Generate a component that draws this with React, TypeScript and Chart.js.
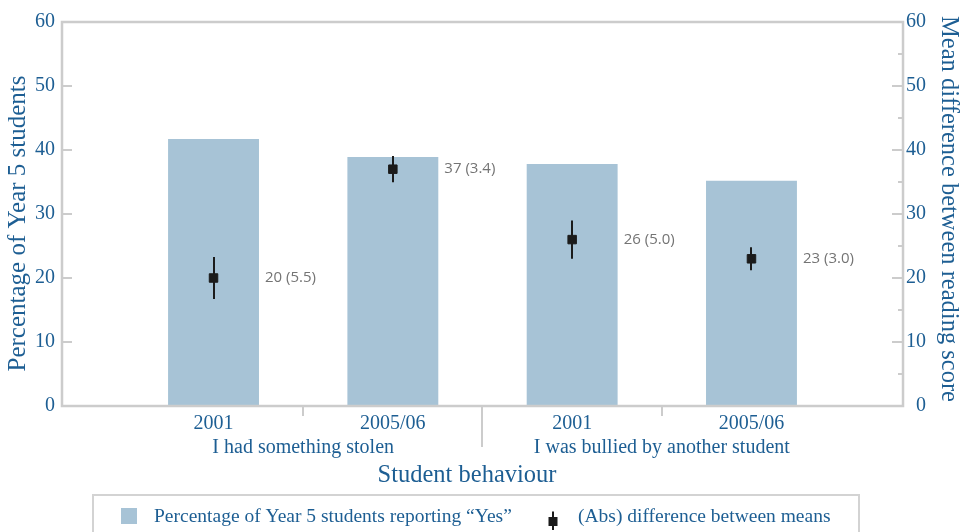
import React, { useEffect, useRef } from 'react';
import { Chart, registerables } from 'chart.js';

Chart.register(...registerables);

// Survey years for each bar, grouped by behaviour
const yearLabels = ['2001', '2005/06', '2001', '2005/06'];
const behaviourGroups = ['I had something stolen', 'I was bullied by another student'];

// Percentage of Year 5 students answering "Yes"
const pctYes = [41.7, 38.9, 37.8, 35.2];

// Absolute difference between mean reading scores, its standard error and error-bar half width
const meanDiff = [20, 37, 26, 23];
const meanDiffSE = [5.5, 3.4, 5.0, 3.0];
const errHalf = [3.3, 2.05, 3.0, 1.8];

// Axis ticks
const yTicks = [0, 10, 20, 30, 40, 50, 60];
const yMinorTicks = [5, 15, 25, 35, 45, 55];

const BLUE = '#1d5e93';
const BAR = '#a7c3d6';
const FRAME = '#cccccc';
const MARK = '#1b1b1b';
const LABEL_GREY = '#747474';
const SERIF = '"Liberation Serif", "Times New Roman", serif';
const SANS = '"Open Sans", "Noto Sans", sans-serif';

const chartDecor = {
  id: 'chartDecor',
  afterDatasetsDraw(chart: any) {
    const { ctx, chartArea: a, scales } = chart;
    const x = scales.x;
    const y = scales.y;
    const y1 = scales.y1;
    ctx.save();

    // error bars on the mean-difference markers
    ctx.strokeStyle = MARK;
    ctx.lineWidth = 2;
    meanDiff.forEach((v, i) => {
      const px = Math.round(x.getPixelForValue(i));
      ctx.beginPath();
      ctx.moveTo(px, y1.getPixelForValue(v + errHalf[i]));
      ctx.lineTo(px, y1.getPixelForValue(v - errHalf[i]));
      ctx.stroke();
    });

    // value labels beside the markers
    ctx.fillStyle = LABEL_GREY;
    ctx.font = `15px ${SANS}`;
    ctx.textAlign = 'left';
    ctx.textBaseline = 'middle';
    meanDiff.forEach((v, i) => {
      const px = x.getPixelForValue(i) + 51.5;
      ctx.fillText(`${Math.round(v)} (${meanDiffSE[i].toFixed(1)})`, px, y1.getPixelForValue(v));
    });

    // plot frame
    ctx.strokeStyle = FRAME;
    ctx.lineWidth = 2.5;
    ctx.strokeRect(a.left, a.top, a.right - a.left, a.bottom - a.top);

    // inward tick marks
    ctx.lineWidth = 2;
    yTicks.slice(1, -1).forEach((v) => {
      const py = Math.round(y.getPixelForValue(v));
      ctx.beginPath();
      ctx.moveTo(a.left, py);
      ctx.lineTo(a.left + 10, py);
      ctx.stroke();
      const py1 = Math.round(y1.getPixelForValue(v));
      ctx.beginPath();
      ctx.moveTo(a.right - 11, py1);
      ctx.lineTo(a.right, py1);
      ctx.stroke();
    });
    yMinorTicks.forEach((v) => {
      const py = Math.round(y1.getPixelForValue(v));
      ctx.beginPath();
      ctx.moveTo(a.right - 5, py);
      ctx.lineTo(a.right, py);
      ctx.stroke();
    });

    // separators below the category axis
    for (let i = 0; i < yearLabels.length - 1; i++) {
      const px = Math.round(x.getPixelForValue(i + 0.5));
      const len = i % 2 === 1 ? 41 : 10;
      ctx.beginPath();
      ctx.moveTo(px, a.bottom);
      ctx.lineTo(px, a.bottom + len);
      ctx.stroke();
    }

    // behaviour group labels
    ctx.fillStyle = BLUE;
    ctx.font = `20px ${SERIF}`;
    ctx.textAlign = 'center';
    behaviourGroups.forEach((g, gi) => {
      ctx.fillText(g, x.getPixelForValue(gi * 2 + 0.5), 448);
    });

    // axis titles
    ctx.font = `24.5px ${SERIF}`;
    ctx.fillText('Student behaviour', 467, 475.5);

    ctx.save();
    ctx.translate(18.5, 223.5);
    ctx.rotate(-Math.PI / 2);
    ctx.font = `25px ${SERIF}`;
    ctx.fillText('Percentage of Year 5 students', 0, 0);
    ctx.restore();

    ctx.save();
    ctx.translate(948, 209);
    ctx.rotate(Math.PI / 2);
    ctx.fillText('Mean difference between reading score', 0, 0);
    ctx.restore();

    // legend
    const ds = chart.data.datasets;
    ctx.strokeStyle = '#d3d3d3';
    ctx.lineWidth = 2;
    ctx.strokeRect(93, 495, 766, 60);
    ctx.fillStyle = BAR;
    ctx.fillRect(121, 508, 16, 16);
    ctx.strokeStyle = MARK;
    ctx.beginPath();
    ctx.moveTo(553, 511.5);
    ctx.lineTo(553, 530);
    ctx.stroke();
    ctx.fillStyle = MARK;
    ctx.fillRect(548.5, 517, 9, 9);
    ctx.fillStyle = BLUE;
    ctx.font = `19.5px ${SERIF}`;
    ctx.textAlign = 'left';
    ctx.fillText(ds[1].label, 154, 516.5);
    ctx.fillText(ds[0].label, 578, 516.5);

    ctx.restore();
  },
};

export default function App() {
  const canvasRef = useRef<HTMLCanvasElement>(null);

  useEffect(() => {
    if (!canvasRef.current) return;
    const tickFont = { family: SERIF, size: 20 };
    const chart = new Chart(canvasRef.current, {
      type: 'bar',
      data: {
        datasets: [
          {
            type: 'scatter',
            label: '(Abs) difference between means',
            data: meanDiff.map((v, i) => ({ x: i, y: v })),
            yAxisID: 'y1',
            pointStyle: 'rect',
            pointRadius: 6,
            pointHoverRadius: 6,
            backgroundColor: MARK,
            borderColor: MARK,
            borderWidth: 1,
            order: 0,
          } as any,
          {
            type: 'bar',
            label: 'Percentage of Year 5 students reporting \u201cYes\u201d',
            data: pctYes.map((v, i) => ({ x: i, y: v })),
            yAxisID: 'y',
            backgroundColor: BAR,
            borderWidth: 0,
            barPercentage: 0.507,
            categoryPercentage: 1,
            order: 1,
          } as any,
        ],
      },
      options: {
        animation: false,
        responsive: true,
        maintainAspectRatio: false,
        layout: { padding: { left: 0, right: 37, top: 22, bottom: 0 } },
        plugins: {
          legend: { display: false },
          tooltip: { enabled: false },
        },
        scales: {
          x: {
            type: 'linear',
            offset: false,
            min: -0.845,
            max: 3.845,
            afterBuildTicks: (s: any) => {
              s.ticks = yearLabels.map((_, i) => ({ value: i }));
            },
            afterFit: (s: any) => {
              s.height = 126;
            },
            grid: { display: false, drawTicks: false },
            border: { display: false },
            ticks: {
              autoSkip: false,
              maxRotation: 0,
              padding: 5.5,
              color: BLUE,
              font: tickFont,
              callback: (v: any) => yearLabels[v] ?? '',
            },
          },
          y: {
            type: 'linear',
            position: 'left',
            min: 0,
            max: 60,
            afterBuildTicks: (s: any) => {
              s.ticks = yTicks.map((v) => ({ value: v }));
            },
            afterFit: (s: any) => {
              s.width = 62;
            },
            grid: { display: false, drawTicks: false },
            border: { display: false },
            ticks: { padding: 7, color: BLUE, font: tickFont },
          },
          y1: {
            type: 'linear',
            position: 'right',
            min: 0,
            max: 60,
            afterBuildTicks: (s: any) => {
              s.ticks = yTicks.map((v) => ({ value: v }));
            },
            afterFit: (s: any) => {
              s.width = 23;
            },
            grid: { display: false, drawTicks: false },
            border: { display: false },
            ticks: { crossAlign: 'far', color: BLUE, font: tickFont },
          },
        },
      } as any,
      plugins: [chartDecor],
    });
    return () => chart.destroy();
  }, []);

  return (
    <div style={{ position: 'absolute', left: 0, top: 0, width: 963, height: 532, background: '#fff' }}>
      <canvas ref={canvasRef} />
    </div>
  );
}
